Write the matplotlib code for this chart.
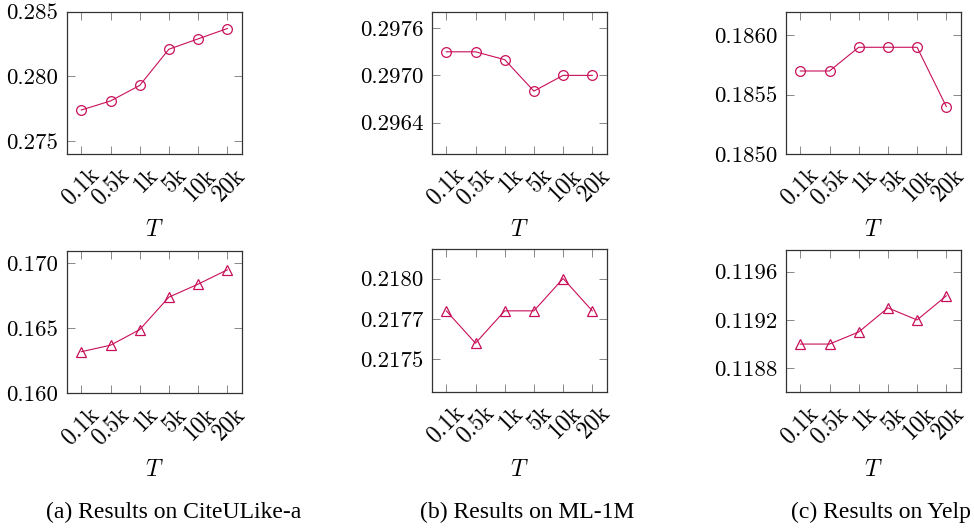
import numpy as np
import matplotlib
matplotlib.use('Agg')
import matplotlib.pyplot as plt
from matplotlib.transforms import ScaledTranslation

plt.rcParams['font.family'] = 'cmr10'
plt.rcParams['mathtext.fontset'] = 'cm'
plt.rcParams['axes.formatter.use_mathtext'] = True

# data
T_labels = ['0.1k', '0.5k', '1k', '5k', '10k', '20k']

cite_top = [0.2774, 0.2781, 0.2793, 0.2821, 0.2829, 0.2837]
ml_top = [0.2973, 0.2973, 0.2972, 0.2968, 0.2970, 0.2970]
yelp_top = [0.1857, 0.1857, 0.1859, 0.1859, 0.1859, 0.1854]

cite_bot = [0.1632, 0.1637, 0.1649, 0.1674, 0.1684, 0.1695]
ml_bot = [0.2178, 0.2176, 0.2178, 0.2178, 0.2180, 0.2178]
yelp_bot = [0.1190, 0.1190, 0.1191, 0.1193, 0.1192, 0.1194]

yt_cite_top = [0.275, 0.280, 0.285]; yl_cite_top = ['0.275', '0.280', '0.285']
yt_ml_top = [0.2964, 0.2970, 0.2976]; yl_ml_top = ['0.2964', '0.2970', '0.2976']
yt_yelp_top = [0.1850, 0.1855, 0.1860]; yl_yelp_top = ['0.1850', '0.1855', '0.1860']
yt_cite_bot = [0.160, 0.165, 0.170]; yl_cite_bot = ['0.160', '0.165', '0.170']
yt_ml_bot = [0.2175, 0.21775, 0.2180]; yl_ml_bot = ['0.2175', '0.2177', '0.2180']
yt_yelp_bot = [0.1188, 0.1192, 0.1196]; yl_yelp_bot = ['0.1188', '0.1192', '0.1196']

captions = ['(a) Results on CiteULike-a', '(b) Results on ML-1M', '(c) Results on Yelp']

W, H = 974, 529
fig = plt.figure(figsize=(W/100, H/100), dpi=100)
col = '#C8105A'

def px_axes(left, top, w, h):
    return fig.add_axes([left/W, 1-(top+h)/H, w/W, h/H])

def panel(ax, vals, marker, yt, yl, ylim):
    x = np.arange(len(T_labels))
    ax.plot(x, vals, color=col, lw=0.8, marker=marker, ms=7, mfc='none', mec=col, mew=0.9)
    ax.set_xlim(-0.5, 5.5)
    ax.set_ylim(*ylim)
    ax.set_yticks(yt); ax.set_yticklabels(yl)
    ax.set_xticks(x); ax.set_xticklabels(T_labels, rotation=45, ha='right', va='top', rotation_mode='anchor')
    ax.tick_params(direction='in', length=5.5, width=0.7, color='#888888', top=True, right=True, labelsize=16.5)
    ax.tick_params(axis='y', pad=6)
    ax.tick_params(axis='x', pad=7, labelsize=17)
    off = ScaledTranslation(7/100, 0, fig.dpi_scale_trans)
    for lab in ax.get_xticklabels():
        lab.set_transform(lab.get_transform() + off)
    for s in ax.spines.values():
        s.set_linewidth(0.9); s.set_color('#333333')

lefts = [66.7, 431.7, 785.7]
aw = 175.2
top_axes = [px_axes(l, 11.7, aw, 142.3) for l in lefts]
bot_tops = [251, 249.4, 250]
bot_axes = [px_axes(l, t, aw, 142.3) for l, t in zip(lefts, bot_tops)]

panel(top_axes[0], cite_top, 'o', yt_cite_top, yl_cite_top, (0.274, 0.285))
panel(top_axes[1], ml_top, 'o', yt_ml_top, yl_ml_top, (0.29600, 0.29781))
panel(top_axes[2], yelp_top, 'o', yt_yelp_top, yl_yelp_top, (0.1850, 0.18620))
panel(bot_axes[0], cite_bot, '^', yt_cite_bot, yl_cite_bot, (0.160, 0.17095))
panel(bot_axes[1], ml_bot, '^', yt_ml_bot, yl_ml_bot, (0.2173, 0.21818))
panel(bot_axes[2], yelp_bot, '^', yt_yelp_bot, yl_yelp_bot, (0.1186, 0.11978))

for l in lefts:
    fig.text((l+aw/2)/W, 1-230/H, r'$T$', ha='center', va='center', fontsize=17)
    fig.text((l+aw/2)/W, 1-470/H, r'$T$', ha='center', va='center', fontsize=17)

cap_x = [173.5, 527, 881]
for cx, c in zip(cap_x, captions):
    fig.text(cx/W, 1-512/H, c, ha='center', va='center', fontsize=17, family='Liberation Serif')

fig.savefig('out.png', dpi=100)
